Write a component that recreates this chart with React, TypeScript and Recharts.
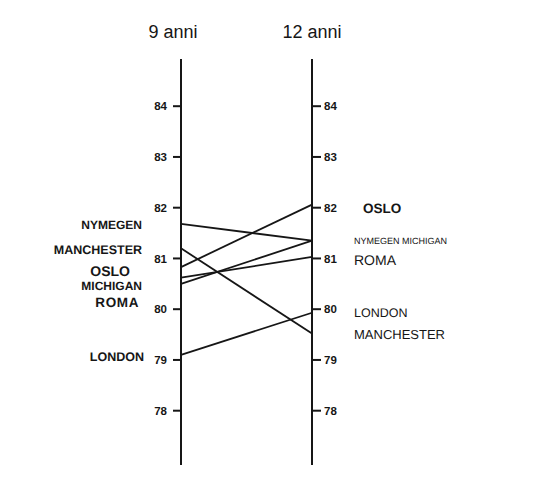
import { LineChart, Line, XAxis, YAxis } from 'recharts'

const years = ['9 anni', '12 anni']
const cities = ['NYMEGEN', 'MANCHESTER', 'OSLO', 'MICHIGAN', 'ROMA', 'LONDON']
const at9 = [81.68, 81.2, 80.83, 80.5, 80.62, 79.1]
const at12 = [81.35, 79.52, 82.06, 81.35, 81.03, 79.93]
const rightNames = ['NYMEGEN MICHIGAN', 'MANCHESTER', 'OSLO', '', 'ROMA', 'LONDON']
const yTicks = [78, 79, 80, 81, 82, 83, 84]

// one row per age, one column per city
const data = years.map((_, i) => {
  const row: Record<string, number> = { x: i }
  cities.forEach((c, k) => {
    row[c] = i === 0 ? at9[k] : at12[k]
  })
  return row
})

const FONT = '"Liberation Sans", Arial, sans-serif'
const INK = '#161616'

type LStyle = { dx: number; dy: number; size: number; weight: number; ls?: number }

// label nudges (px) and type for each side
const leftStyle: Record<string, LStyle> = {
  NYMEGEN: { dx: -39, dy: 1, size: 12, weight: 700 },
  MANCHESTER: { dx: -39, dy: 1, size: 12.5, weight: 700 },
  OSLO: { dx: -51, dy: 4, size: 14, weight: 700 },
  MICHIGAN: { dx: -39, dy: 2, size: 12, weight: 700 },
  ROMA: { dx: -42, dy: 24, size: 13.5, weight: 700, ls: 0.6 },
  LONDON: { dx: -37, dy: 2, size: 12.5, weight: 700 },
}
const rightStyle: Record<string, LStyle> = {
  NYMEGEN: { dx: 42, dy: 0, size: 9, weight: 400 },
  MANCHESTER: { dx: 42, dy: 1, size: 13, weight: 400 },
  OSLO: { dx: 51, dy: 3, size: 13.5, weight: 700 },
  MICHIGAN: { dx: 42, dy: 0, size: 9, weight: 400 },
  ROMA: { dx: 42, dy: 3, size: 14, weight: 400 },
  LONDON: { dx: 42, dy: 0, size: 12.5, weight: 400 },
}

function makeLabel(city: string, k: number) {
  return (props: any) => {
    const x = props.x ?? props.viewBox?.x
    const y = props.y ?? props.viewBox?.y
    const idx = props.index ?? (x < 250 ? 0 : 1)
    const left = idx === 0
    const s = left ? leftStyle[city] : rightStyle[city]
    const text = left ? city : rightNames[k]
    if (!text) return null
    return (
      <text
        key={city + idx}
        x={x + s.dx}
        y={y + s.dy + s.size * 0.36}
        textAnchor={left ? 'end' : 'start'}
        fontFamily={FONT}
        fontSize={s.size}
        fontWeight={s.weight}
        letterSpacing={s.ls ?? 0}
        fill={INK}
        style={{ textRendering: 'geometricPrecision' }}
      >
        {text}
      </text>
    )
  }
}

function YearTick(props: any) {
  const { x, payload } = props
  const i = payload.value
  return (
    <text
      x={x + (i === 0 ? -8 : 0)}
      y={38}
      textAnchor="middle"
      fontFamily={FONT}
      fontSize={18}
      fill={INK}
    >
      {years[i]}
    </text>
  )
}

const tickText = { fontFamily: FONT, fontSize: 11.5, fontWeight: 700, fill: INK }

export default function App() {
  return (
    <div style={{ position: 'absolute', left: 0, top: 0, background: '#fff' }}>
      <LineChart
        width={534}
        height={482}
        data={data}
        margin={{ top: 9, right: 162, bottom: 17, left: 121 }}
      >
        <XAxis
          xAxisId="t"
          type="number"
          dataKey="x"
          domain={[0, 1]}
          ticks={[0, 1]}
          orientation="top"
          height={50}
          axisLine={false}
          tickLine={false}
          tick={<YearTick />}
        />
        <YAxis
          yAxisId="l"
          type="number"
          domain={[76.93, 84.93]}
          ticks={yTicks}
          allowDataOverflow
          width={60}
          axisLine={{ stroke: INK, strokeWidth: 2 }}
          tickLine={{ stroke: INK, strokeWidth: 2 }}
          tickSize={8}
          tickMargin={6}
          tick={tickText}
        />
        <YAxis
          yAxisId="r"
          orientation="right"
          type="number"
          domain={[76.93, 84.93]}
          ticks={yTicks}
          allowDataOverflow
          width={60}
          axisLine={{ stroke: INK, strokeWidth: 2 }}
          tickLine={{ stroke: INK, strokeWidth: 2 }}
          tickSize={9}
          tickMargin={3}
          tick={tickText}
        />
        {cities.map((c, k) => (
          <Line
            key={c}
            xAxisId="t"
            yAxisId="l"
            type="linear"
            dataKey={c}
            stroke={INK}
            strokeWidth={1.8}
            dot={false}
            activeDot={false}
            isAnimationActive={false}
            label={makeLabel(c, k)}
          />
        ))}
      </LineChart>
    </div>
  )
}
